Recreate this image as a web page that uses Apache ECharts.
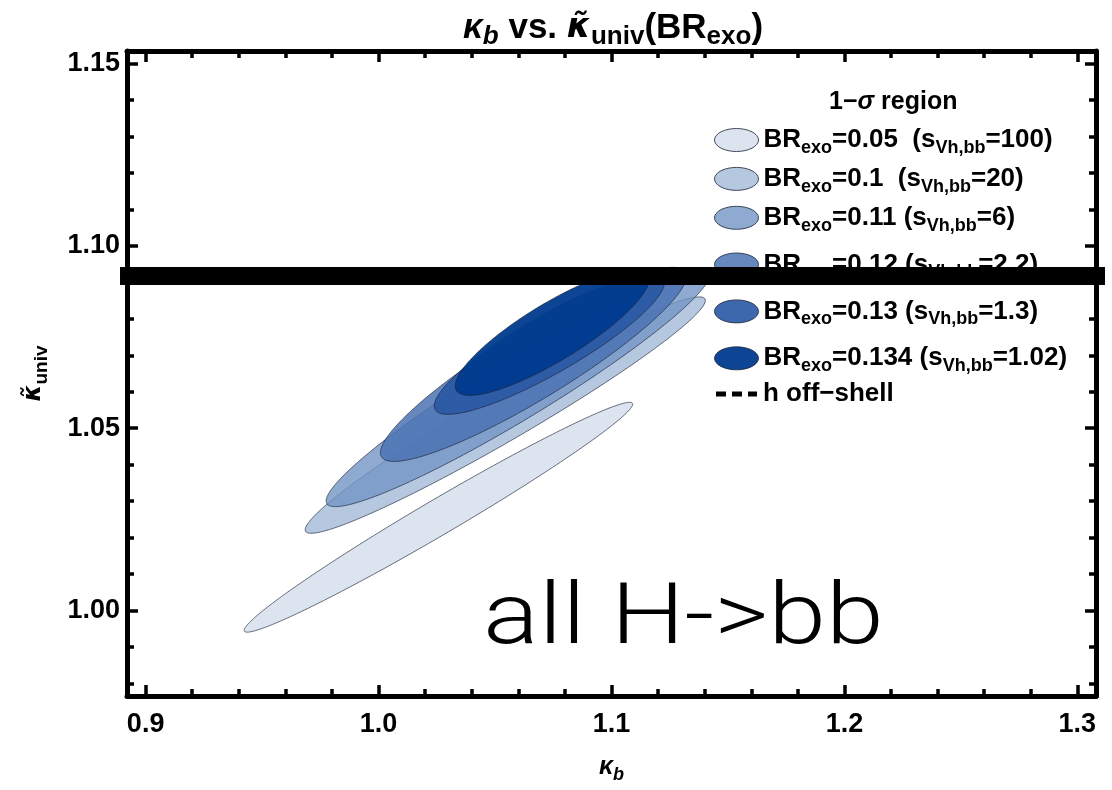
<!DOCTYPE html>
<html>
<head>
<meta charset="utf-8">
<script src="https://cdn.jsdelivr.net/npm/echarts@6/dist/echarts.min.js"></script>
<style>
html,body{margin:0;padding:0;background:#fff;}
#chart{width:1112px;height:790px;}
</style>
</head>
<body>
<div id="chart"></div>
<script>
// ---- axis ticks ----
const xMajorTicks = [0.9, 1.0, 1.1, 1.2, 1.3];
const xMinorTicks = [0.92, 0.94, 0.96, 0.98, 1.02, 1.04, 1.06, 1.08, 1.12, 1.14, 1.16, 1.18, 1.22, 1.24, 1.26, 1.28];
const yMajorTicks = [1.00, 1.05, 1.10, 1.15];
const yMinorTicks = [0.98, 0.99, 1.01, 1.02, 1.03, 1.04, 1.06, 1.07, 1.08, 1.09, 1.11, 1.12, 1.13, 1.14];
const xRange = [0.892, 1.308];
const yRange = [0.9766, 1.1534];

// ---- 1-sigma regions ----
const brExo    = ['0.05', '0.1', '0.11', '0.12', '0.13', '0.134'];
const sVhbb    = ['100', '20', '6', '2.2', '1.3', '1.02'];
const kbCenter = [1.0257, 1.0544, 1.0600, 1.0665, 1.0733, 1.0746];
const kbHalf   = [0.0834, 0.0859, 0.0825, 0.0657, 0.0494, 0.0417];
const kuCenter = [1.0256, 1.0536, 1.0612, 1.0675, 1.0730, 1.0763];
const kuHalf   = [0.0315, 0.0324, 0.0327, 0.0266, 0.0192, 0.0173];
const rho      = [0.984, 0.970, 0.952, 0.91, 0.88, 0.85];

// ---- off-shell line ----
const offShellKu = 1.0917;
const offShellKb = [0.8890, 1.3127];

const fills = ['rgba(205,216,232,0.7)', 'rgba(156,182,214,0.75)', 'rgba(115,149,196,0.8)',
               'rgba(75,115,180,0.85)', 'rgba(41,88,164,0.9)', 'rgba(0,59,142,0.95)'];
const STROKE = 'rgba(25,35,55,0.8)';
const FONT = '"Liberation Sans", Arial, Helvetica, sans-serif';
const KFONT = '"DejaVu Sans", "Liberation Sans", sans-serif';

const chart = echarts.init(document.getElementById('chart'));

function ellipseRender(fill) {
  return function (params, api) {
    const cx = api.value(0), cy = api.value(1), dx = api.value(2), dy = api.value(3), r = api.value(4);
    const s = Math.sqrt(1 - r * r);
    const pts = [];
    const N = 240;
    for (let i = 0; i < N; i++) {
      const t = i / N * 2 * Math.PI;
      pts.push(api.coord([cx + dx * Math.cos(t), cy + dy * (r * Math.cos(t) - s * Math.sin(t))]));
    }
    return {
      type: 'polygon',
      shape: { points: pts },
      style: { fill: fill, stroke: STROKE, lineWidth: 0.8 }
    };
  };
}

const seriesNames = brExo.map(b => 'BR' + b);
const series = brExo.map((b, i) => ({
  type: 'custom',
  name: seriesNames[i],
  xAxisIndex: 0, yAxisIndex: 0,
  renderItem: ellipseRender(fills[i]),
  itemStyle: { color: fills[i] },
  encode: { x: 0, y: 1 },
  data: [[kbCenter[i], kuCenter[i], kbHalf[i], kuHalf[i], rho[i]]],
  z: 2,
  silent: true
}));
series.push({
  type: 'line', name: 'h off-shell', data: [], symbol: 'none',
  itemStyle: { color: '#000' },
  lineStyle: { color: '#000', width: 5, type: [10, 6] }
});
series.push({
  type: 'line', name: 'band', xAxisIndex: 0, yAxisIndex: 0,
  data: [[offShellKb[0], offShellKu], [offShellKb[1], offShellKu]],
  symbol: 'none', clip: false, silent: true, z: 20,
  lineStyle: { color: '#000', width: 18, cap: 'butt' }
});

const tickStyle = { color: '#000', width: 3.5 };
const labelStyle = { color: '#000', fontWeight: 'bold', fontSize: 27, fontFamily: FONT };

function xAxisDef(pos, major, withLabel) {
  return {
    type: 'value', position: pos, min: xRange[0], max: xRange[1],
    axisLine: { show: major, onZero: false, lineStyle: { color: '#000', width: 5 } },
    axisTick: { show: true, inside: true, length: major ? 11 : 7, lineStyle: tickStyle,
                customValues: major ? xMajorTicks : xMinorTicks },
    axisLabel: withLabel ? Object.assign({ customValues: xMajorTicks, margin: 15,
                formatter: v => v.toFixed(1) }, labelStyle) : { show: false },
    splitLine: { show: false }
  };
}
function yAxisDef(pos, major, withLabel) {
  return {
    type: 'value', position: pos, min: yRange[0], max: yRange[1],
    axisLine: { show: major, onZero: false, lineStyle: { color: '#000', width: 5 } },
    axisTick: { show: true, inside: true, length: major ? 11 : 7, lineStyle: tickStyle,
                customValues: major ? yMajorTicks : yMinorTicks },
    axisLabel: withLabel ? Object.assign({ customValues: yMajorTicks, margin: 7,
                formatter: v => v.toFixed(2) }, labelStyle) : { show: false },
    splitLine: { show: false }
  };
}

const xMain = xAxisDef('bottom', true, true);
xMain.name = '{k|κ}{s|b}';
xMain.nameLocation = 'middle';
xMain.nameGap = 54;
xMain.nameTextStyle = {
  rich: {
    k: { fontSize: 25, fontWeight: 'bold', fontStyle: 'italic', fontFamily: FONT, color: '#000', lineHeight: 34 },
    s: { fontSize: 18, fontWeight: 'bold', fontStyle: 'italic', fontFamily: FONT, color: '#000', lineHeight: 18, verticalAlign: 'bottom' }
  }
};
const yMain = yAxisDef('left', true, true);
yMain.name = '{k|κ̃}{s|univ}';
yMain.nameLocation = 'middle';
yMain.nameGap = 76;
yMain.nameTextStyle = {
  rich: {
    k: { fontSize: 24, fontWeight: 'bold', fontStyle: 'italic', fontFamily: KFONT, color: '#000', lineHeight: 34 },
    s: { fontSize: 19, fontWeight: 'bold', fontFamily: FONT, color: '#000', lineHeight: 19, verticalAlign: 'bottom' }
  }
};

const richMain = (size, lh) => ({ fontSize: size, fontWeight: 'bold', fontFamily: FONT, color: '#000', lineHeight: lh });
const richSub = (size) => ({ fontSize: size, fontWeight: 'bold', fontFamily: FONT, color: '#000', lineHeight: size, verticalAlign: 'bottom' });

const ellipseIcon = 'path://M0,11.5A22,11.5,0,1,1,44,11.5A22,11.5,0,1,1,0,11.5Z';
const dashIcon = 'path://M0,0h0.01v0.01h-0.01zM44,23h-0.01v-0.01h0.01zM2,9h10v5h-10zM18,9h10v5h-10zM34,9h9v5h-9z';
const legendItems = seriesNames.map((n, i) => ({
  name: n,
  icon: ellipseIcon,
  itemStyle: { color: fills[i], borderColor: STROKE, borderWidth: 1 }
}));
legendItems.push({ name: 'h off-shell', icon: dashIcon, itemStyle: { color: '#000', borderWidth: 0 } });

function legendFormatter(name) {
  const i = seriesNames.indexOf(name);
  if (i < 0) return '{m|h off−shell}';
  const gap = (brExo[i] === '0.05' || brExo[i] === '0.1') ? '  ' : ' ';
  return '{m|BR}{s|exo}{m|=' + brExo[i] + gap + '(s}{s|Vh,bb}{m|=' + sVhbb[i] + ')}';
}
function legendBlock(items, top, gap) {
  return {
    data: items,
    orient: 'vertical',
    left: 714, top: top,
    padding: 0,
    itemWidth: 44, itemHeight: 23, itemGap: gap,
    selectedMode: false,
    formatter: legendFormatter,
    textStyle: { color: '#000', rich: { m: richMain(26, 34), s: richSub(18) } }
  };
}

chart.setOption({
  animation: false,
  backgroundColor: '#fff',
  grid: { left: 127, right: 16, top: 51, bottom: 94, containLabel: false },
  title: [
    {
      text: '{k|κ}{ks|b}{m| vs. }{kt|κ̃}{s|univ}{m|(BR}{s|exo}{m|)}',
      left: 458, top: 1,
      textStyle: {
        rich: {
          m: richMain(35, 44),
          k: Object.assign(richMain(35, 44), { fontStyle: 'italic' }),
          kt: Object.assign(richMain(34, 44), { fontStyle: 'italic', fontFamily: KFONT }),
          s: richSub(26),
          ks: Object.assign(richSub(26), { fontStyle: 'italic' })
        }
      }
    },
    {
      text: '{m|1−}{i|σ}{m| region}',
      left: 824, top: 81,
      textStyle: {
        rich: {
          m: richMain(25, 32),
          i: Object.assign(richMain(25, 32), { fontStyle: 'italic' })
        }
      }
    }
  ],
  legend: [
    legendBlock(legendItems.slice(0, 3), 127, 8.9),
    legendBlock(legendItems.slice(3, 6), 251.5, 16.9),
    legendBlock(legendItems.slice(6), 381, 8)
  ],
  xAxis: [xMain, xAxisDef('bottom', false, false), xAxisDef('top', true, false), xAxisDef('top', false, false)],
  yAxis: [yMain, yAxisDef('left', false, false), yAxisDef('right', true, false), yAxisDef('right', false, false)],
  graphic: [{
    type: 'text', x: 483, y: 578, scaleX: 1.21, silent: true,
    style: { text: 'all H->bb', font: '300 86px Roboto, "Liberation Sans", sans-serif', fill: '#000', verticalAlign: 'top' }
  }],
  series: series
});
</script>
</body>
</html>
